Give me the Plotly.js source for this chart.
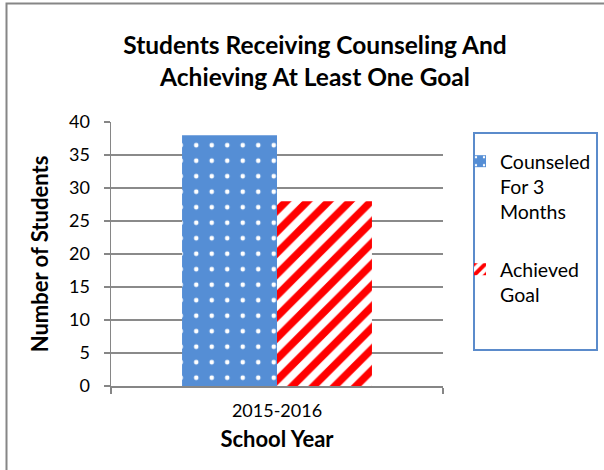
<!DOCTYPE html>
<html>
<head>
<meta charset="utf-8">
<script src="https://cdn.plot.ly/plotly-3.0.1.min.js"></script>
<style>html,body{margin:0;padding:0;background:#fff;}#chart{width:604px;height:470px;}</style>
</head>
<body>
<div id="chart"></div>
<script>
var categories = ["2015-2016"];
var seriesNames = ["Counseled<br>For 3<br>Months", "Achieved<br>Goal"];
var counseled = [38];
var achieved = [28];
var yTicks = [0, 5, 10, 15, 20, 25, 30, 35, 40];

var FONT = "Lato, 'Liberation Sans', sans-serif";
var L = 111, R = 443, T = 122, B = 386, W = 604, H = 470;
function px(x){ return (x - L) / (R - L); }
function py(y){ return (B - y) / (B - T); }

var traces = [
  {
    type: "bar", x: categories, y: counseled, name: seriesNames[0], legendgroup: "a",
    marker: { color: "#558ED5", line: {width: 0},
      pattern: { shape: ".", fillmode: "replace", bgcolor: "#558ED5", fgcolor: "#ffffff", size: 15.5, solidity: 0.07 } },
    hoverinfo: "y"
  },
  {
    type: "bar", x: categories, y: achieved, name: seriesNames[1], legendgroup: "b",
    marker: { color: "#ff0000", line: {width: 0},
      pattern: { shape: "/", fillmode: "replace", bgcolor: "#ffffff", fgcolor: "#ff0000", size: 15, solidity: 0.5 } },
    hoverinfo: "y"
  }
];

var layout = {
  width: W, height: H,
  margin: { l: L, r: W - R, t: T, b: H - B, pad: 0, autoexpand: false },
  paper_bgcolor: "#ffffff", plot_bgcolor: "#ffffff",
  font: { family: FONT, size: 18, color: "#000000" },
  title: {
    text: "<b>Students Receiving Counseling And<br>Achieving At Least One Goal</b>",
    font: { family: FONT, size: 24.5, color: "#000000" },
    x: 315 / W, xanchor: "center", xref: "container",
    y: 1 - 54 / H, yanchor: "top", yref: "container"
  },
  barmode: "group", bargap: 0.428, bargroupgap: 0,
  xaxis: {
    type: "category", range: [-0.5, 0.5],
    showline: true, linecolor: "#868686", linewidth: 1.5,
    ticks: "outside", tickson: "boundaries", ticklen: 6, tickcolor: "#868686", tickwidth: 1.5,
    showgrid: false, tickfont: { family: FONT, size: 18 }, ticklabelstandoff: 8,
    title: { text: "<b>School Year</b>", font: { family: FONT, size: 22 }, standoff: 11 }
  },
  yaxis: {
    range: [0, 40], tickvals: yTicks, ticktext: yTicks.map(String),
    showline: true, linecolor: "#868686", linewidth: 1.5,
    ticks: "outside", ticklen: 6, tickcolor: "#868686", tickwidth: 1.5,
    showgrid: true, gridcolor: "#8a8a8a", gridwidth: 1.5,
    zeroline: false, ticklabelstandoff: 10,
    tickfont: { family: FONT, size: 18 },
    title: { text: "<b>Number of Students</b>", font: { family: FONT, size: 22 }, standoff: 14 }
  },
  showlegend: true,
  legend: {
    x: px(460), xanchor: "left", y: py(142), yanchor: "top",
    bgcolor: "rgba(0,0,0,0)", borderwidth: 0,
    font: { family: FONT, size: 19.5, color: "#000000" },
    traceorder: "grouped", tracegroupgap: 29, valign: "top"
  },
  shapes: [
    { type: "path", xref: "paper", yref: "paper",
      path: "M " + px(6.5) + "," + py(700) + " L " + px(6.5) + "," + py(3.5) + " L " + px(700) + "," + py(3.5),
      line: { color: "#868686", width: 2 }, fillcolor: "rgba(0,0,0,0)", layer: "below" },
    { type: "rect", xref: "paper", yref: "paper", x0: px(474), x1: px(597), y0: py(350), y1: py(133),
      line: { color: "#5B8BCB", width: 2 }, fillcolor: "rgba(0,0,0,0)" }
  ]
};

Plotly.newPlot("chart", traces, layout, { displayModeBar: false, staticPlot: true });
</script>
</body>
</html>
